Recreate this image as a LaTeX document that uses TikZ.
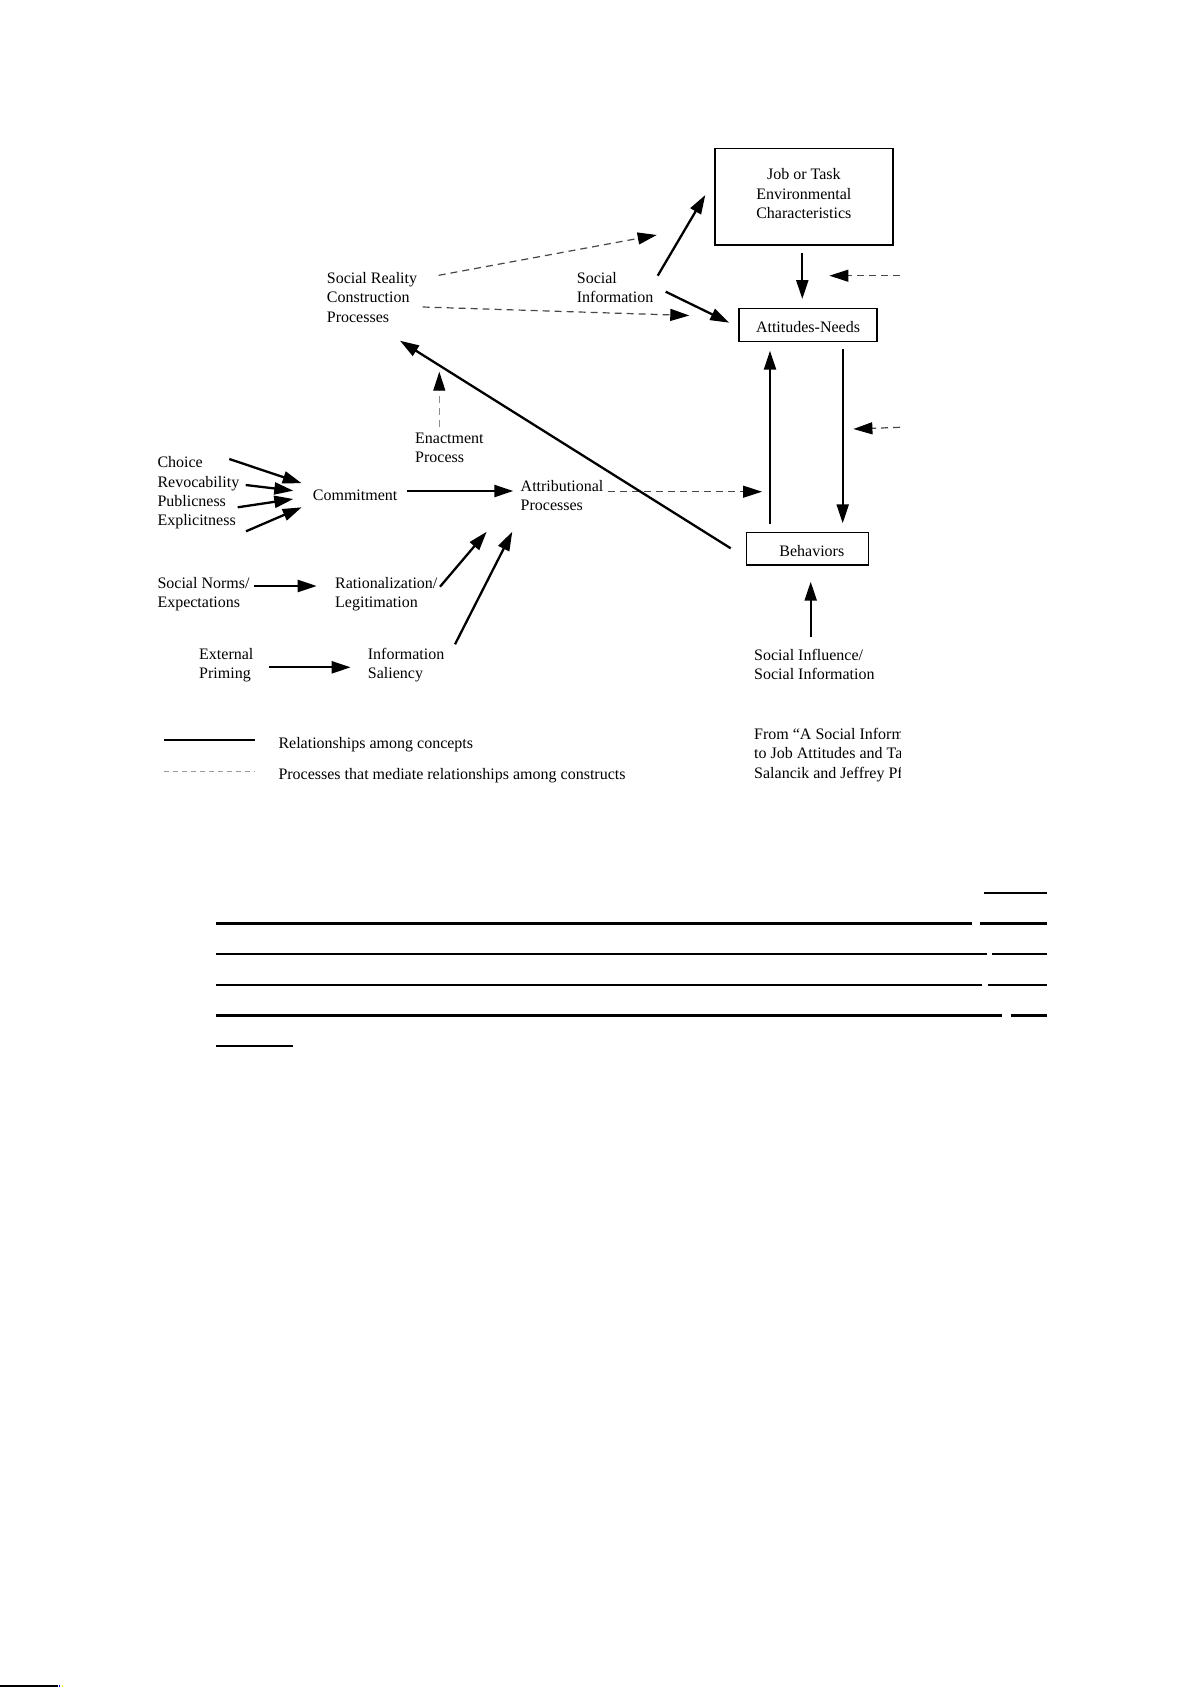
\documentclass[tikz,border=0pt]{standalone}
\usepackage{fontspec}
\setmainfont{Liberation Serif}
\usetikzlibrary{arrows.meta,calc}
\newcommand\myfs{\fontsize{16}{19.2}\selectfont}
\begin{document}
\begin{tikzpicture}[x=1pt,y=-1pt,
  lbl/.style={anchor=north west,inner sep=0pt,align=left,font=\myfs},
  boxn/.style={draw=black,line width=1.7pt,inner sep=0pt,font=\myfs,align=center,anchor=north west},
  rel/.style={line width=2.3pt,-{Triangle[length=19pt,width=12pt]}},
  med/.style={draw=black!72,line width=1.2pt,dash pattern=on 7pt off 5pt,-{Triangle[length=19pt,width=12pt,color=black]}},
  medl/.style={med,draw=black!45,line width=1pt},
  leaderthick/.style={line width=3pt},
  leaderthin/.style={line width=2pt}
]
\useasboundingbox (0,0) rectangle (1193,1687);
\fill[white] (0,0) rectangle (1193,1687);

% ---------- boxes ----------
\node[boxn,minimum width=178pt,minimum height=96.6pt] (job) at (714,147.7)
  {Job or Task\\Environmental\\Characteristics\rule[-6.8pt]{0pt}{6.8pt}};
\node[boxn,minimum width=137.7pt,minimum height=33pt,text height=23.8pt,text depth=9.2pt] (att) at (738.3,307.7) {Attitudes-Needs};
\node[boxn,minimum width=122pt,minimum height=32.6pt,text height=23.8pt,text depth=8.8pt] (beh) at (745.7,531.7) {\hspace*{8.6pt}Behaviors};

% ---------- labels ----------
\node[lbl] (sr) at (326.7,270.1) {\strut Social Reality\\Construction\\Processes};
\node[lbl] (si) at (576.7,270.1) {\strut Social\\Information};
\node[lbl] (enact) at (415,430.1) {\strut Enactment\\Process};
\node[lbl] (choice) at (157.3,453.8) {\strut Choice};
\node[lbl] (revoc) at (157.3,473.4) {\strut Revocability};
\node[lbl] (public) at (157.3,492.4) {\strut Publicness};
\node[lbl] (explicit) at (157.3,511.8) {\strut Explicitness};
\node[lbl] (commit) at (312.7,486.4) {\strut Commitment};
\node[lbl] (attrib) at (520.5,477.8) {\strut Attributional\\Processes};
\node[lbl] (norms) at (157.3,574.4) {\strut Social Norms/\\Expectations};
\node[lbl] (rat) at (335,574.4) {\strut Rationalization/\\Legitimation};
\node[lbl] (ext) at (199,646.1) {\strut External\\Priming};
\node[lbl] (info) at (367.7,646.1) {\strut Information\\Saliency};
\node[lbl] (socinf) at (754,646.8) {\strut Social Influence/\\Social Information};
\begin{scope}
  \clip (0,0) rectangle (900,800);
  \node[lbl] (src) at (754,726.1) {\strut From “A Social Information Processing\\to Job Attitudes and Task Design,”\\Salancik and Jeffrey Pfeffer};
\end{scope}

% legend
\coordinate (lg1a) at (164,740);
\coordinate (lg1b) at (255,740);
\coordinate (lg2a) at (164,771.7);
\coordinate (lg2b) at (255,771.7);
\draw[line width=2.2pt] (lg1a) -- (lg1b);
\draw[draw=black!40,line width=1pt,dash pattern=on 5pt off 4pt] (lg2a) -- (lg2b);
\node[lbl] (leg1) at (278.3,734.4) {\strut Relationships among concepts};
\node[lbl] (leg2) at (278.3,766.1) {\strut Processes that mediate relationships among constructs};

% ---------- connectors ----------
% social reality construction processes
\draw[med] ($(sr.north west)+(112,5.2)$) -- ($(job.north west)+(-57.3,87.3)$);
\draw[med] ($(sr.north west)+(96,36.9)$) -- ($(att.north west)+(-49,7.8)$);
% social information
\draw[rel] ($(si.north west)+(81,5.6)$) -- ($(job.north west)+(-8.7,47.3)$);
\draw[rel] ($(si.north west)+(89,21.6)$) -- ($(att.north west)+(-9,15)$);
% job -> attitudes
\draw[rel] ($(job.south west)+(88.3,6.7)$) -- ($(att.north west)+(64,-8.7)$);
% dashed arrows entering from the right edge
\coordinate (rin1) at (900,275.7);
\coordinate (rin2) at (900,427.3);
\draw[med] (rin1) -- ($(att.north east)+(-48.3,-32)$);
\draw[med] (rin2) -- ($(att.south east)+(-24.3,86.6)$);
% attitudes <-> behaviors
\draw[rel] ($(att.south west)+(104.4,7)$) -- ($(beh.north west)+(97,-8.4)$);
\draw[rel] ($(beh.north west)+(24.3,-7.4)$) -- ($(att.south west)+(31.7,8.3)$);
% attributional -> between
\draw[med] ($(attrib.north west)+(87.3,13.9)$) -- ($(beh.north west)+(16.3,-40)$);
% behaviors -> social reality
\draw[rel] ($(beh.north west)+(-15,16.6)$) -- ($(sr.north west)+(73.3,70.6)$);
% enactment
\draw[medl] ($(enact.north west)+(24.3,-3.4)$) -- ($(sr.north west)+(112.6,101.6)$);
% commitment inputs
\draw[rel] ($(choice.north west)+(72,5.2)$) -- ($(commit.north west)+(-11,-3.1)$);
\draw[rel] ($(revoc.north west)+(88.4,11.6)$) -- ($(commit.north west)+(-19.4,4.3)$);
\draw[rel] ($(public.north west)+(80.4,14.9)$) -- ($(commit.north west)+(-19.4,12.6)$);
\draw[rel] ($(explicit.north west)+(88.7,19.5)$) -- ($(commit.north west)+(-11,20.9)$);
% commitment -> attributional
\draw[rel] ($(commit.north west)+(94,4.6)$) -- ($(attrib.north west)+(-7.2,13.2)$);
% norms -> rationalization -> attributional
\draw[rel] ($(norms.north west)+(97,11.6)$) -- ($(rat.north west)+(-18.3,11.6)$);
\draw[rel] ($(rat.north west)+(105,12.3)$) -- ($(attrib.north west)+(-33.8,53.9)$);
% external priming -> information saliency -> attributional
\draw[rel] ($(ext.north west)+(70.3,21.2)$) -- ($(info.north west)+(-17,21.2)$);
\draw[rel] ($(info.north west)+(87.3,-1.8)$) -- ($(attrib.north west)+(-8.2,53.9)$);
% social influence -> behaviors
\draw[rel] ($(socinf.north west)+(56.7,-9.5)$) -- ($(beh.south west)+(65,15.7)$);

% ---------- leader lines below ----------
\draw[leaderthin] (983.8,893.3) -- (1047,893.3);
\draw[leaderthick] (216,923.3) -- (972.3,923.3);
\draw[leaderthick] (979.7,923.3) -- (1047,923.3);
\draw[leaderthin] (216,954.3) -- (986.7,954.3);
\draw[leaderthin] (992.4,954.3) -- (1047,954.3);
\draw[leaderthin] (216,985) -- (982,985);
\draw[leaderthin] (987.8,985) -- (1047,985);
\draw[leaderthick] (216,1015.7) -- (1002,1015.7);
\draw[leaderthick] (1011,1015.7) -- (1047,1015.7);
\draw[leaderthin] (216,1046) -- (293.2,1046);

% bottom-left mark
\draw[line width=1.5pt] (0,1685.8) -- (58.3,1685.8);
\fill[blue] (58.5,1684.8) rectangle (60,1687);
\fill[yellow] (61.5,1684.8) rectangle (63,1687);
\end{tikzpicture}
\end{document}
